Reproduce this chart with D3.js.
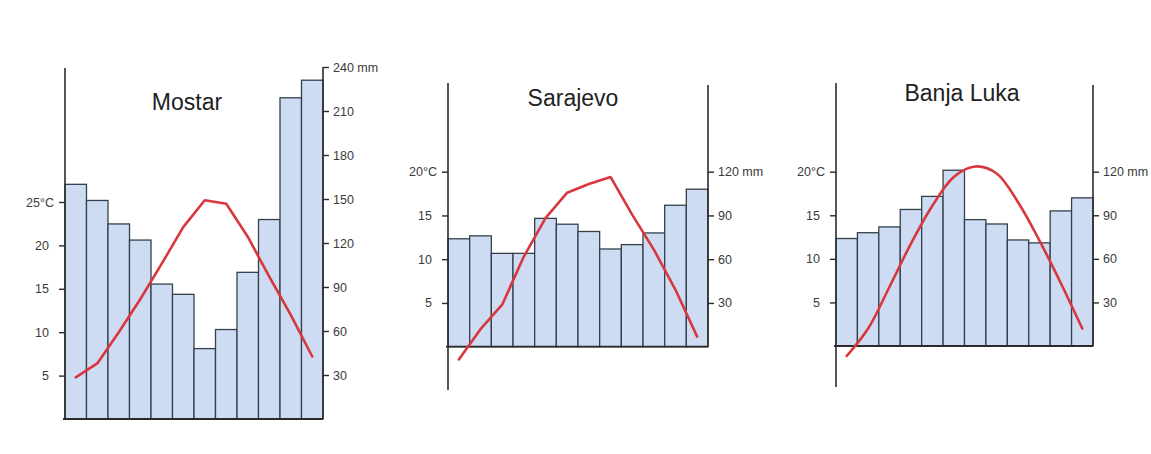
<!DOCTYPE html>
<html>
<head>
<meta charset="utf-8">
<script src="https://cdn.jsdelivr.net/npm/d3@7"></script>
<style>
  html, body { margin: 0; padding: 0; background: #fff; }
  svg { display: block; }
  text { font-family: "Liberation Sans", Arial, Helvetica, sans-serif; }
</style>
</head>
<body>
<svg id="chart" width="1151" height="454"></svg>
<script>
// ---- data ----
const months = ["J","F","M","A","M","J","J","A","S","O","N","D"];
const cities = ["Mostar", "Sarajevo", "Banja Luka"];

const mostarPrecip   = [160, 149, 133, 122, 92, 85, 48, 61, 100, 136, 219, 231];
const mostarTemp     = [4.8, 6.4, 10.0, 13.8, 17.9, 22.1, 25.2, 24.8, 21.0, 16.4, 12.0, 7.2];
const sarajevoPrecip = [74, 76, 64, 64, 88, 84, 79, 67, 70, 78, 97, 108];
const sarajevoTemp   = [-1.45, 2.0, 4.8, 10.3, 14.7, 17.6, 18.6, 19.4, 15.1, 11.1, 6.5, 1.15];
const banjaPrecip    = [74, 78, 82, 94, 103, 121, 87, 84, 73, 71, 93, 102];
const banjaTemp      = [-1.15, 2.0, 6.8, 11.75, 16.1, 19.4, 20.6, 19.8, 16.5, 12.1, 7.2, 2.0];

const mostarTempTicks   = [5, 10, 15, 20, 25];
const mostarPrecipTicks = [30, 60, 90, 120, 150, 180, 210, 240];
const otherTempTicks    = [5, 10, 15, 20];
const otherPrecipTicks  = [30, 60, 90, 120];

// ---- layout (positions only) ----
const panels = [
  { name: cities[0], precip: mostarPrecip, temp: mostarTemp,
    tTicks: mostarTempTicks, pTicks: mostarPrecipTicks,
    x0: 65, x1: 323, base: 419, tTop: 202, pTop: 67,
    leftTop: 68, leftBottom: 420, rightTop: 67,
    titleX: 187, titleY: 110, curve: d3.curveLinear },
  { name: cities[1], precip: sarajevoPrecip, temp: sarajevoTemp,
    tTicks: otherTempTicks, pTicks: otherPrecipTicks,
    x0: 448, x1: 708, base: 346.7, tTop: 171.7, pTop: 171.7,
    leftTop: 83, leftBottom: 390, rightTop: 85,
    titleX: 573, titleY: 106, curve: d3.curveLinear },
  { name: cities[2], precip: banjaPrecip, temp: banjaTemp,
    tTicks: otherTempTicks, pTicks: otherPrecipTicks,
    x0: 836, x1: 1093, base: 346, tTop: 171.7, pTop: 171.7,
    leftTop: 83, leftBottom: 387, rightTop: 85,
    titleX: 962, titleY: 101, curve: d3.curveCatmullRom.alpha(0.5) }
];

const svg = d3.select("#chart");
svg.append("rect").attr("width", 1151).attr("height", 454).attr("fill", "#fff");

const axisColor = "#2b2b2b";
const labelColor = "#3a3a3a";

panels.forEach(p => {
  const g = svg.append("g");
  const x = d3.scaleBand().domain(d3.range(12)).range([p.x0, p.x1]).paddingInner(0).paddingOuter(0);
  const tMax = d3.max(p.tTicks), pMax = d3.max(p.pTicks);
  const yT = d3.scaleLinear().domain([0, tMax]).range([p.base, p.tTop]);
  const yP = d3.scaleLinear().domain([0, pMax]).range([p.base, p.pTop]);

  // bars
  g.append("g").selectAll("rect").data(p.precip).join("rect")
    .attr("x", (d, i) => x(i))
    .attr("y", d => yP(d))
    .attr("width", x.bandwidth())
    .attr("height", d => yP(0) - yP(d))
    .attr("fill", "#cddcf3")
    .attr("stroke", "#34404a")
    .attr("stroke-width", 1.3);

  // baseline
  g.append("line").attr("x1", p.x0 - 2).attr("x2", p.x1)
    .attr("y1", yP(0)).attr("y2", yP(0))
    .attr("stroke", axisColor).attr("stroke-width", 1.8);

  // left axis line
  g.append("line").attr("x1", p.x0).attr("x2", p.x0)
    .attr("y1", p.leftTop).attr("y2", p.leftBottom)
    .attr("stroke", axisColor).attr("stroke-width", 1.6);
  // right axis line
  g.append("line").attr("x1", p.x1).attr("x2", p.x1)
    .attr("y1", p.rightTop).attr("y2", yP(0))
    .attr("stroke", axisColor).attr("stroke-width", 1.6);

  // left axis ticks
  const la = g.append("g").attr("transform", `translate(${p.x0},0)`)
    .call(d3.axisLeft(yT).tickValues(p.tTicks).tickSize(6).tickPadding(10)
      .tickFormat(d => d === tMax ? d + "°C" : d));
  la.select(".domain").remove();
  la.selectAll(".tick line").attr("stroke", axisColor).attr("stroke-width", 1.4);
  la.selectAll(".tick text").attr("fill", labelColor).attr("font-size", 12.5)
    .attr("font-family", "Liberation Sans, Arial, sans-serif")
    .attr("dx", d => d === tMax ? 5 : 0);

  // right axis ticks
  const ra = g.append("g").attr("transform", `translate(${p.x1},0)`)
    .call(d3.axisRight(yP).tickValues(p.pTicks).tickSize(6).tickPadding(4)
      .tickFormat(d => d === pMax ? d + " mm" : d));
  ra.select(".domain").remove();
  ra.selectAll(".tick line").attr("stroke", axisColor).attr("stroke-width", 1.4);
  ra.selectAll(".tick text").attr("fill", labelColor).attr("font-size", 12.5)
    .attr("font-family", "Liberation Sans, Arial, sans-serif");

  // temperature line
  const line = d3.line()
    .x((d, i) => x(i) + x.bandwidth() / 2)
    .y(d => yT(d))
    .curve(p.curve);
  g.append("path").datum(p.temp)
    .attr("d", line)
    .attr("fill", "none")
    .attr("stroke", "#d8373e")
    .attr("stroke-width", 2.6)
    .attr("stroke-linejoin", "round")
    .attr("stroke-linecap", "round");

  // title
  g.append("text").attr("x", p.titleX).attr("y", p.titleY)
    .attr("text-anchor", "middle")
    .attr("font-size", 23)
    .attr("fill", "#222")
    .text(p.name);
});
</script>
</body>
</html>
